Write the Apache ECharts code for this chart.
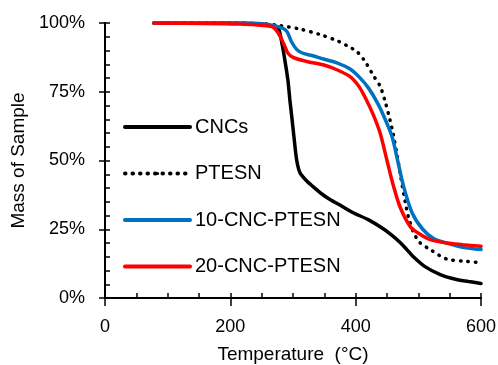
<!DOCTYPE html>
<html>
<head>
<meta charset="utf-8">
<script src="https://cdn.jsdelivr.net/npm/echarts@6/dist/echarts.min.js"></script>
<style>
  html, body { margin: 0; padding: 0; background: #fff; }
  #chart { width: 498px; height: 365px; }
</style>
</head>
<body>
<div id="chart"></div>
<script>
// temperatures (°C) and mass (%)
const cncT = [78, 200, 250, 266, 276, 282, 287, 292, 295, 298, 302, 306, 311, 320, 332, 345, 359, 378, 396, 420, 444, 458, 471, 482, 492, 510, 535, 561, 580, 600];
const cncV = [100, 100, 99.6, 99, 98.4, 93, 86.5, 79, 72, 66, 57.6, 50, 45.6, 43, 40.5, 38, 35.8, 33.4, 31, 28.5, 25.2, 22.8, 20.2, 17.5, 15, 11.5, 8.5, 6.7, 6, 5.3];

const ptesnT = [78, 200, 250, 280, 311, 343, 370, 388, 402, 415, 428, 439, 447, 455, 460, 466, 472, 479, 484, 492, 498, 503, 519, 545, 577, 600];
const ptesnV = [100, 100, 99.8, 99, 97.8, 95.8, 93.6, 91.5, 89.6, 86, 81, 77, 71.5, 64.5, 59.5, 52, 44, 35, 29.6, 24, 21.5, 20, 17.6, 14.2, 13.3, 12.9];

const c10T = [78, 220, 260, 280, 290, 298, 306, 316, 330, 350, 370, 391, 405, 420, 436, 447, 458, 466, 476, 490, 507, 525, 545, 571, 600];
const c10V = [100, 100, 99.5, 98.4, 97, 93, 90.4, 89, 88.2, 86.8, 85.5, 83.3, 80.5, 76.5, 70.4, 65, 58.7, 51, 41, 31, 25, 21.5, 20, 18.4, 17.6];

const c20T = [78, 215, 266, 276, 282, 287, 292, 300, 322, 348, 370, 391, 405, 415, 428, 439, 450, 460, 471, 487, 499, 519, 545, 571, 600];
const c20V = [100, 99.6, 98.7, 96.5, 94, 91.5, 89, 87.5, 86, 84.8, 83, 80.5, 77, 73, 66.7, 60, 50, 41, 33, 26, 23.7, 21.2, 20, 19.4, 18.8];

const seriesNames = ["CNCs", "PTESN", "10-CNC-PTESN", "20-CNC-PTESN"];
const xTicks = [0, 200, 400, 600];
const yTicks = [0, 25, 50, 75, 100];

function pairs(t, v) {
  return t.map((x, i) => [x, v[i]]);
}

const font = "Liberation Sans";
const chart = echarts.init(document.getElementById("chart"), null, { renderer: "canvas" });

const lineSeries = (name, t, v, color, type) => ({
  name: name,
  type: "line",
  xAxisIndex: 0,
  yAxisIndex: 0,
  data: pairs(t, v),
  smooth: 0.3,
  symbol: "none",
  lineStyle: { color: color, width: 3.5, type: type || "solid", cap: "round" },
  itemStyle: { color: color },
  z: 3
});

const baseX = {
  type: "value",
  min: xTicks[0],
  max: xTicks[xTicks.length - 1],
  interval: 200,
  position: "bottom",
  splitLine: { show: false },
  axisLine: { onZero: false, lineStyle: { color: "#000", width: 2 } }
};
const baseY = {
  type: "value",
  min: yTicks[0],
  max: yTicks[yTicks.length - 1],
  interval: 25,
  position: "left",
  splitLine: { show: false },
  axisLine: { onZero: false, lineStyle: { color: "#000", width: 2 } }
};

chart.setOption({
  animation: false,
  grid: { left: 105, right: 17, top: 23, bottom: 67, outerBoundsMode: "none", containLabel: false },
  legend: {
    orient: "vertical",
    left: 118,
    top: 112,
    itemWidth: 65,
    itemHeight: 4,
    itemGap: 26.5,
    data: seriesNames,
    lineStyle: { width: 4 },
    textStyle: { fontFamily: font, fontSize: 20, color: "#000", lineHeight: 20 }
  },
  xAxis: [
    Object.assign({}, baseX, {
      name: "Temperature  (°C)",
      nameLocation: "middle",
      nameGap: 47,
      nameTextStyle: { fontFamily: font, fontSize: 19, color: "#000" },
      axisTick: { show: true, inside: false, length: 8, lineStyle: { color: "#000", width: 1.5 } },
      axisLabel: { fontFamily: font, fontSize: 18, color: "#000", margin: 20 }
    }),
    Object.assign({}, baseX, {
      axisTick: { show: true, inside: true, length: 5, lineStyle: { color: "#000", width: 1.5 } },
      minorTick: { show: true, splitNumber: 4, length: 5, lineStyle: { color: "#000", width: 1.5 } },
      axisLabel: { show: false }
    })
  ],
  yAxis: [
    Object.assign({}, baseY, {
      name: "Mass of Sample",
      nameLocation: "middle",
      nameGap: 74,
      nameTextStyle: { fontFamily: font, fontSize: 19, color: "#000" },
      axisTick: { show: true, inside: false, length: 6, lineStyle: { color: "#000", width: 1.5 } },
      axisLabel: { fontFamily: font, fontSize: 18, color: "#000", margin: 20, formatter: "{value}%" }
    }),
    Object.assign({}, baseY, {
      axisTick: { show: true, inside: true, length: 5, lineStyle: { color: "#000", width: 1.5 } },
      minorTick: { show: true, splitNumber: 5, length: 5, lineStyle: { color: "#000", width: 1.5 } },
      axisLabel: { show: false }
    })
  ],
  series: [
    lineSeries(seriesNames[0], cncT, cncV, "#000000"),
    lineSeries(seriesNames[1], ptesnT, ptesnV, "#000000", [0.5, 7]),
    lineSeries(seriesNames[2], c10T, c10V, "#0070C0"),
    lineSeries(seriesNames[3], c20T, c20V, "#FF0000")
  ]
});
</script>
</body>
</html>
